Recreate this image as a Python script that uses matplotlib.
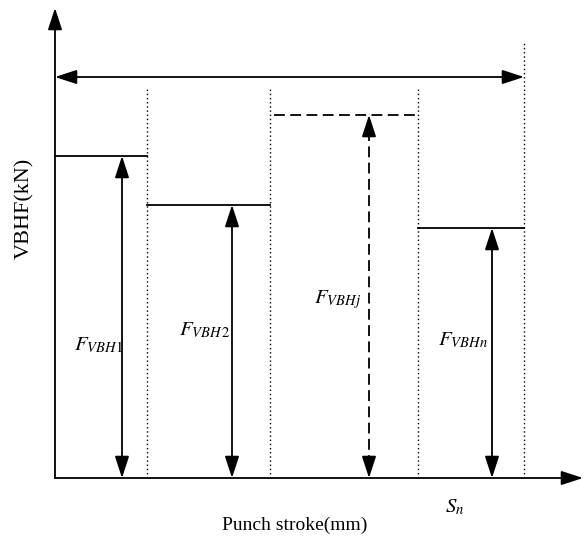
import matplotlib
matplotlib.use('Agg')
import matplotlib.pyplot as plt

plt.rcParams['font.family'] = ['Liberation Serif', 'DejaVu Serif']
plt.rcParams['mathtext.fontset'] = 'stix'

# stage boundaries along the stroke and the holder force in each stage
bounds = [0, 92, 215, 363, 469]
forces = [322, 273, 363, 250]
seg_start = [0, 92, 219, 363]
arrow_x = [67, 177, 314, 437]
dashed = [False, False, True, False]
labels = [r'$F_{VBH\mathrm{1}}$', r'$F_{VBH\,\mathrm{2}}$', r'$F_{VBHj}$', r'$F_{VBHn}$']
label_pos = [(43, 133), (150, 148), (283, 178), (408, 138)]
divider_top = [389, 389, 389, 437]

fig = plt.figure(figsize=(5.87, 5.42), dpi=100)
ax = fig.add_axes([0, 0, 1, 1])
ax.set_xlim(-55, 532)
ax.set_ylim(-64, 478)
ax.axis('off')

head = dict(color='black', lw=1.3, shrinkA=0, shrinkB=0, mutation_scale=14)
one = '-|>,head_length=0.95,head_width=0.31'
two = '<|-|>,head_length=0.95,head_width=0.31'
dash = (0, (6, 3))

# axes with arrow tips
ax.annotate('', xy=(0, 470), xytext=(0, 0), arrowprops=dict(arrowstyle=one, **head))
ax.annotate('', xy=(528, 0), xytext=(0, 0), arrowprops=dict(arrowstyle=one, **head))

# total stroke
ax.annotate('', xy=(469, 401), xytext=(0, 401), arrowprops=dict(arrowstyle=two, **head))

# stage dividers
for x, top in zip(bounds[1:], divider_top):
    ax.plot([x, x], [0, top], color='black', lw=1, linestyle=(0, (1, 2)))

# force levels and their arrows
for i in range(4):
    ls = dash if dashed[i] else '-'
    ax.plot([seg_start[i], bounds[i + 1]], [forces[i], forces[i]], color='black', lw=1.3, linestyle=ls)
    if dashed[i]:
        ax.plot([arrow_x[i], arrow_x[i]], [12, forces[i] - 12], color='black', lw=1.3, linestyle=ls)
        ax.annotate('', xy=(arrow_x[i], 0), xytext=(arrow_x[i], 14), arrowprops=dict(arrowstyle=one, **head))
        ax.annotate('', xy=(arrow_x[i], forces[i]), xytext=(arrow_x[i], forces[i] - 14),
                    arrowprops=dict(arrowstyle=one, **head))
    else:
        ax.annotate('', xy=(arrow_x[i], 0), xytext=(arrow_x[i], forces[i]),
                    arrowprops=dict(arrowstyle=two, **head))
    ax.text(label_pos[i][0], label_pos[i][1], labels[i], fontsize=15, ha='center', va='center')

ax.text(400, -29, r'$S_n$', fontsize=15, ha='center', va='center')
ax.text(240, -47, 'Punch stroke(mm)', fontsize=14, ha='center', va='center')
ax.text(-30, 270, 'VBHF(kN)', fontsize=16, ha='center', va='center', rotation=90)

fig.savefig('out.png', dpi=100)
